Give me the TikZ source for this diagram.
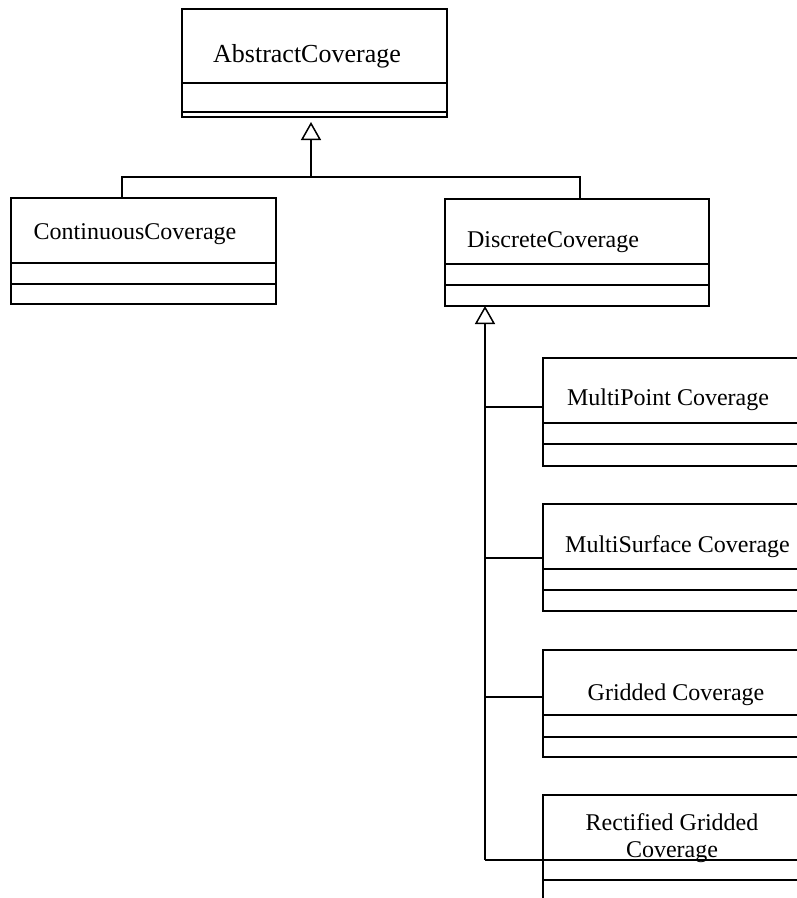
\documentclass[tikz,border=0pt]{standalone}
\usepackage{fontspec}
\setmainfont{Liberation Serif}
\usetikzlibrary{positioning,arrows.meta}

% compartments of a class box
\tikzset{
  part/.style={draw,rectangle,minimum width=265pt,inner sep=0pt,outer sep=0pt},
  head/.style={part,minimum height=65pt},
  slot/.style={part,minimum height=21pt},
  cname/.style={font=\fontsize{24}{27}\selectfont,anchor=base,inner sep=0pt},
  isa/.style={-{Triangle[open,length=18pt,width=20pt]}},
}

\begin{document}
\begin{tikzpicture}[x=1pt,y=-1pt,line width=1.5pt]
  \useasboundingbox (0,0) rectangle (797,898);
  \clip (0,0) rectangle (797,898);

  % top level
  \node[head,minimum height=74pt] (abs) at (314.5,46) {};
  \node[slot,minimum height=29pt,below=0pt of abs] (abs-a) {};
  \node[slot,minimum height=5pt,below=0pt of abs-a] (abs-o) {};
  \node[cname,font=\fontsize{26}{28}\selectfont] (abs-n) at (307,62) {AbstractCoverage};

  % second level
  \node[head] (cont) at (143.5,230.5) {};
  \node[slot,below=0pt of cont] (cont-a) {};
  \node[slot,minimum height=20pt,below=0pt of cont-a] (cont-o) {};
  \node[cname] (cont-n) at (135,239) {ContinuousCoverage};

  \node[head,minimum width=264pt] (disc) at (577,231.5) {};
  \node[slot,minimum width=264pt,below=0pt of disc] (disc-a) {};
  \node[slot,minimum width=264pt,below=0pt of disc-a] (disc-o) {};
  \node[cname] (disc-n) at (553,247) {DiscreteCoverage};

  % subclasses of the discrete one
  \node[head] (mp) at (675.5,390.5) {};
  \node[slot,below=0pt of mp] (mp-a) {};
  \node[slot,minimum height=22pt,below=0pt of mp-a] (mp-o) {};
  \node[cname] (mp-n) at (668,405) {MultiPoint Coverage};

  \node[head] (ms) at (675.5,536.5) {};
  \node[slot,below=0pt of ms] (ms-a) {};
  \node[slot,below=0pt of ms-a] (ms-o) {};
  \node[cname] (ms-n) at (677.5,552) {MultiSurface Coverage};

  \node[head] (gr) at (675.5,682.5) {};
  \node[slot,minimum height=22pt,below=0pt of gr] (gr-a) {};
  \node[slot,minimum height=20pt,below=0pt of gr-a] (gr-o) {};
  \node[cname] (gr-n) at (676,700) {Gridded Coverage};

  \node[head] (rg) at (675.5,827.5) {};
  \node[slot,minimum height=20pt,below=0pt of rg] (rg-a) {};
  \node[slot,minimum height=20pt,below=0pt of rg-a] (rg-o) {};
  \node[cname,align=center] (rg-n) at (672,857) {Rectified Gridded\\Coverage};

  % generalisation to AbstractCoverage
  \coordinate (j1) at (311,177);
  \draw ([xshift=-21.5pt]cont.north) |- (j1) -| ([xshift=3pt]disc.north);
  \draw[isa,shorten >=5pt] (j1) -- (j1 |- abs-o.south);

  % generalisation to DiscreteCoverage
  \coordinate (trunk) at (485,860);
  \draw[isa] (trunk) -- (trunk |- disc-o.south);
  \draw (trunk) -- (trunk -| rg.west);
  \foreach \k/\y in {mp/407,ms/558,gr/697}
    \draw (485,\y) -- (\k.west |- 485,\y);
\end{tikzpicture}
\end{document}
